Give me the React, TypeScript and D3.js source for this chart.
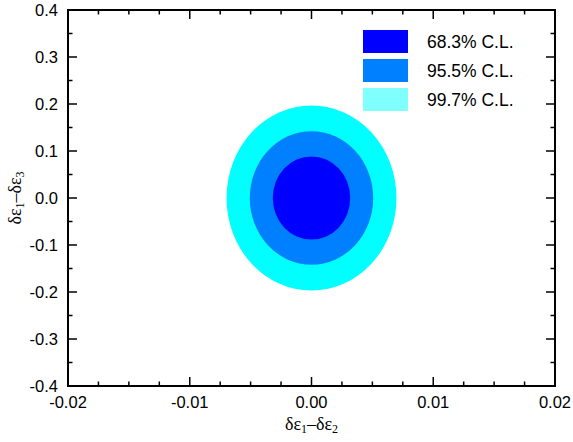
import React from 'react'
import * as d3 from 'd3'

// confidence regions (center and half-widths)
const levels = ['99.7% C.L.', '95.5% C.L.', '68.3% C.L.']
const centerX = [0.0, 0.0, 0.0]
const centerY = [0.0, 0.0, 0.0]
const halfX = [0.00698, 0.00507, 0.00318]
const halfY = [0.197, 0.142, 0.0885]
const fills = ['#00FFFF', '#0080FF', '#0000FF']

const legendLabels = ['68.3% C.L.', '95.5% C.L.', '99.7% C.L.']
const legendFills = ['#0000FF', '#0080FF', '#80FFFF']

const xMajor = [-0.02, -0.01, 0, 0.01, 0.02]
const yMajor = [-0.4, -0.3, -0.2, -0.1, 0, 0.1, 0.2, 0.3, 0.4]

const W = 573
const H = 442
const margin = { top: 10, right: 18, bottom: 56, left: 68 }

// plain hyphen for negative numbers, like the original
const locale = d3.formatLocale({ decimal: '.', thousands: ',', grouping: [3], currency: ['', ''], minus: '-' })

export default function App() {
  const w = W - margin.left - margin.right
  const h = H - margin.top - margin.bottom
  const x = d3.scaleLinear().domain([-0.02, 0.02]).range([0, w])
  const y = d3.scaleLinear().domain([-0.4, 0.4]).range([h, 0])
  const xMinor = d3.range(-0.02, 0.02001, 0.0025).filter((v) => !xMajor.some((m) => Math.abs(m - v) < 1e-9))
  const yMinor = d3.range(-0.4, 0.4001, 0.05).filter((v) => !yMajor.some((m) => Math.abs(m - v) < 1e-9))
  const fx = locale.format('.2f')
  const fy = locale.format('.1f')
  const tick = { stroke: '#000', strokeWidth: 1.5 }
  const fmtX = (v: number) => (Math.abs(v) < 1e-9 ? '0.00' : fx(v))
  const fmtY = (v: number) => (Math.abs(v) < 1e-9 ? '0.0' : fy(v))

  return (
    <div style={{ position: 'absolute', left: 0, top: 0 }}>
      <svg width={W} height={H} style={{ display: 'block', background: '#fff' }}>
        <g transform={`translate(${margin.left},${margin.top})`}>
          {/* contours, outermost first */}
          {levels.map((l, i) => (
            <ellipse key={l}
              cx={x(centerX[i])} cy={y(centerY[i])}
              rx={x(halfX[i]) - x(0)} ry={y(0) - y(halfY[i])}
              fill={fills[i]} />
          ))}

          {/* ticks on all four sides, pointing inward */}
          {xMajor.map((v) => (
            <g key={'xm' + v}>
              <line x1={x(v)} x2={x(v)} y1={h} y2={h - 9} {...tick} />
              <line x1={x(v)} x2={x(v)} y1={0} y2={9} {...tick} />
              <text x={x(v)} y={h + 22} textAnchor="middle" fontFamily="Liberation Sans, Arial" fontSize={16.5}>{fmtX(v)}</text>
            </g>
          ))}
          {xMinor.map((v) => (
            <g key={'xn' + v}>
              <line x1={x(v)} x2={x(v)} y1={h} y2={h - 4.5} {...tick} />
              <line x1={x(v)} x2={x(v)} y1={0} y2={4.5} {...tick} />
            </g>
          ))}
          {yMajor.map((v) => (
            <g key={'ym' + v}>
              <line x1={0} x2={9} y1={y(v)} y2={y(v)} {...tick} />
              <line x1={w} x2={w - 9} y1={y(v)} y2={y(v)} {...tick} />
              <text x={-10} y={y(v)} dy="0.35em" textAnchor="end" fontFamily="Liberation Sans, Arial" fontSize={16.5}>{fmtY(v)}</text>
            </g>
          ))}
          {yMinor.map((v) => (
            <g key={'yn' + v}>
              <line x1={0} x2={4.5} y1={y(v)} y2={y(v)} {...tick} />
              <line x1={w} x2={w - 4.5} y1={y(v)} y2={y(v)} {...tick} />
            </g>
          ))}
          <rect x={0} y={0} width={w} height={h} fill="none" stroke="#000" strokeWidth={2} />

          {/* legend */}
          {legendLabels.map((l, i) => (
            <g key={l} transform={`translate(${295},${20 + i * 29})`}>
              <rect x={0} y={0} width={45} height={23} fill={legendFills[i]} />
              <text x={64} y={11.5} dy="0.36em" fontFamily="Liberation Sans, Arial" fontSize={17.5}>{l}</text>
            </g>
          ))}

          {/* axis titles */}
          <text x={w / 2} y={h + 44} textAnchor="middle" fontFamily="Liberation Serif, Times New Roman" fontSize={18}>
            δε<tspan fontSize={12} dy={3}>1</tspan><tspan dy={-3}>–δε</tspan><tspan fontSize={12} dy={3}>2</tspan>
          </text>
          <text transform={`translate(${-47},${h / 2}) rotate(-90)`} textAnchor="middle" fontFamily="Liberation Serif, Times New Roman" fontSize={18}>
            δε<tspan fontSize={12} dy={3}>1</tspan><tspan dy={-3}>–δε</tspan><tspan fontSize={12} dy={3}>3</tspan>
          </text>
        </g>
      </svg>
    </div>
  )
}
